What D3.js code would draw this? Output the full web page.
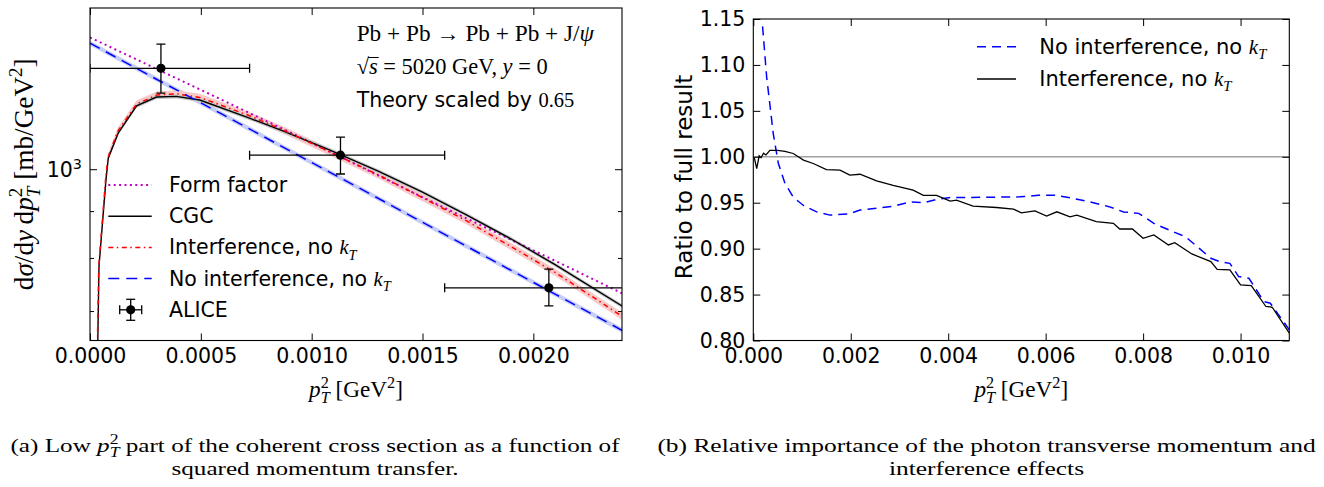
<!DOCTYPE html>
<html lang="en">
<head>
<meta charset="UTF-8">
<title>Coherent J/psi cross section and ratios</title>
<script src="https://d3js.org/d3.v7.min.js"></script>
<style>
    body { margin: 0; background: #fff; }
    svg { display: block; }
    .tick text { font-family: 'DejaVu Sans', sans-serif; font-size: 20.5px; fill: #000; }
    .tick line { stroke: #000; stroke-width: 1; }
</style>
</head>
<body>
<svg id="fig" width="1324" height="487"></svg>
<script>
// ---- data ----
// left panel, x in GeV^2, y in mb/GeV^2 (already scaled by 0.65)
const formFactor = [[0,1393],[0.0003,1287],[0.0006,1189],[0.0009,1098],[0.0012,1012],[0.0015,932],[0.0018,860],[0.0021,794],[0.0024,732]];
const cgc = [[0.000033,600],[0.0000405,783],[0.000072,973],[0.0000824,1028],[0.000127,1095],[0.00021,1173],[0.0003,1199],[0.00039,1201],[0.000495,1190],[0.00072,1137],[0.00087,1101],[0.00108,1050],[0.0013,995],[0.0015,944],[0.0017,891],[0.0019,839],[0.0021,786],[0.0024,709]];
const interfNoKt = [[0.000031,600],[0.0000395,783],[0.00007,973],[0.000081,1030],[0.000125,1100],[0.00021,1178],[0.0003,1205],[0.00039,1209],[0.000495,1198],[0.00072,1144],[0.00087,1104],[0.00108,1045],[0.0013,986],[0.0015,931],[0.0017,878],[0.0019,823],[0.0021,771],[0.0024,691]];
const noInterfNoKt = [[0,1373],[0.0003,1254],[0.0006,1147],[0.0009,1048],[0.0012,958],[0.0015,875],[0.0018,799],[0.0021,730],[0.0024,667]];
// relative half width of the shaded bands
const bandCgc = 0.005, bandInterf = 0.009, bandNoInterf = 0.006;

// ALICE points
const aliceX   = [0.00032, 0.00113, 0.00207];
const aliceY   = [1289, 1036, 742];
const aliceXlo = [0, 0.00072, 0.0016];
const aliceXhi = [0.00072, 0.0016, 0.0025];
const aliceYlo = [1211, 988, 709];
const aliceYhi = [1370, 1084, 778];

// right panel, ratio to full result
const ratioNoInterf = [[0.00019,1.142],[0.000274,1.087],[0.00041,1.025],[0.000513,0.993],[0.00065,0.971],[0.00082,0.956],[0.00103,0.947],[0.0013,0.940],[0.00157,0.9365],[0.00198,0.938],[0.00219,0.942],[0.00287,0.946],[0.00322,0.951],[0.00349,0.950],[0.00376,0.9535],[0.00404,0.9557],[0.00445,0.9557],[0.00486,0.956],[0.00547,0.9564],[0.00585,0.958],[0.00623,0.958],[0.00657,0.9546],[0.00691,0.951],[0.0073,0.9457],[0.0076,0.940],[0.00791,0.9384],[0.00822,0.9275],[0.00861,0.9185],[0.00887,0.913],[0.00939,0.8895],[0.00957,0.8859],[0.00978,0.884],[0.00996,0.8696],[0.01017,0.8678],[0.01048,0.8424],[0.01061,0.8406],[0.011,0.8116]];
const ratioInterf = [[0.00002,0.999],[0.00007,0.987],[0.00012,1.001],[0.00016,0.999],[0.00021,1.004],[0.00026,1.002],[0.00034,1.007],[0.0005,1.007],[0.00065,1.006],[0.00082,1.0036],[0.00103,0.9964],[0.00123,0.9927],[0.0015,0.986],[0.00178,0.9855],[0.00198,0.980],[0.00219,0.981],[0.00253,0.9739],[0.00287,0.969],[0.00328,0.9637],[0.00349,0.958],[0.00376,0.958],[0.00404,0.9517],[0.00417,0.9528],[0.00451,0.9463],[0.00499,0.9448],[0.00534,0.943],[0.0055,0.939],[0.00578,0.9412],[0.00602,0.9354],[0.00623,0.9401],[0.0065,0.9347],[0.00664,0.9365],[0.00704,0.9293],[0.00739,0.9275],[0.00752,0.9214],[0.00778,0.9214],[0.008,0.9112],[0.00822,0.9149],[0.00852,0.904],[0.00865,0.9065],[0.009,0.8942],[0.00939,0.8859],[0.00952,0.8775],[0.00978,0.8768],[0.01,0.8605],[0.01022,0.8598],[0.01052,0.837],[0.01065,0.8362],[0.011,0.808]];

// ticks
const leftXTicks = [0, 0.0005, 0.001, 0.0015, 0.002];
const leftYMajor = [1000];
const leftYMinor = [700, 800, 900];
const rightXTicks = [0, 0.002, 0.004, 0.006, 0.008, 0.010];
const rightYTicks = [0.80, 0.85, 0.90, 0.95, 1.00, 1.05, 1.10, 1.15];

const serif = "'Liberation Serif', 'DejaVu Serif', serif";
const sans = "'DejaVu Sans', sans-serif";

const svg = d3.select("#fig");

// text with italic / sup / sub pieces
function rich(sel, segs, size) {
    sel.selectAll("tspan").remove();
    let off = 0;
    segs.forEach(s => {
        const small = s.sup || s.sub;
        const pos = s.sup ? -0.4 * size : s.sub ? 0.26 * size : 0;
        const ts = sel.append("tspan")
            .attr("dy", pos - off)
            .style("font-size", (small ? 0.7 * size : size) + "px")
            .style("font-style", s.i ? "italic" : "normal")
            .text(s.t);
        if (s.m) ts.style("font-family", serif);
        if (s.back) ts.attr("dx", -s.back * size);
        off = pos;
    });
}
// scale font until the text is w px wide
function fitRich(sel, segs, size, w) {
    rich(sel, segs, size);
    const got = sel.node().getBBox().width;
    const s2 = size * w / got;
    rich(sel, segs, s2);
    return s2;
}
// two-line caption centred at cx; the first line is stretched sideways to width w
function caption(cx, y, segs1, segs2, size, w) {
    const mk = segs => {
        const t = svg.append("text").attr("x", 0).attr("y", 0).attr("text-anchor", "middle").style("font-family", serif);
        rich(t, segs, size);
        return t;
    };
    const t1 = mk(segs1), t2 = mk(segs2);
    const sx = w / t1.node().getBBox().width;
    t1.attr("transform", `translate(${cx},${y}) scale(${sx},1)`);
    t2.attr("transform", `translate(${cx},${y + 23}) scale(${sx},1)`);
}
const pT2 = [{t:"p", i:1}, {t:"2", sup:1}, {t:"T", sub:1, i:1, back:0.35}];
const kT = [{t:"k", i:1, m:1}, {t:"T", sub:1, i:1, m:1}];

// ================= left panel =================
const L = {x: 90, y: 8, w: 532, h: 332.5};
const gL = svg.append("g").attr("transform", `translate(${L.x},${L.y})`);
const xL = d3.scaleLinear().domain([0, 0.0024]).range([0, L.w]);
const yL = d3.scaleLog().domain([650, 1500]).range([L.h, 0]);

svg.append("clipPath").attr("id", "clipL").append("rect").attr("width", L.w).attr("height", L.h);
const plotL = gL.append("g").attr("clip-path", "url(#clipL)");

const lineL = d3.line().x(d => xL(d[0])).y(d => yL(d[1]));
const bandL = f => d3.area().x(d => xL(d[0])).y0(d => yL(d[1] * (1 - f))).y1(d => yL(d[1] * (1 + f)));

plotL.append("path").datum(noInterfNoKt).attr("d", bandL(bandNoInterf)).attr("fill", "#c6cdf7");
plotL.append("path").datum(interfNoKt).attr("d", bandL(bandInterf)).attr("fill", "#f8c9c9");
plotL.append("path").datum(cgc).attr("d", bandL(bandCgc)).attr("fill", "#c8c8c8");

const leftSeries = [
    {data: formFactor, color: "#bf00bf", width: 2, dash: "2,3.4", label: [{t:"Form factor"}]},
    {data: cgc, color: "#000", width: 1.4, dash: null, label: [{t:"CGC"}]},
    {data: interfNoKt, color: "#ff0000", width: 1.5, dash: "5,3.5,1.5,3.5", label: [{t:"Interference, no "}].concat(kT)},
    {data: noInterfNoKt, color: "#0000ff", width: 1.5, dash: "11,7", label: [{t:"No interference, no "}].concat(kT)}
];
leftSeries.forEach(s => {
    plotL.append("path").datum(s.data).attr("d", lineL)
        .attr("fill", "none").attr("stroke", s.color).attr("stroke-width", s.width)
        .attr("stroke-dasharray", s.dash);
});

// ALICE error bars
const alice = aliceX.map((x, i) => ({x, y: aliceY[i], xlo: aliceXlo[i], xhi: aliceXhi[i], ylo: aliceYlo[i], yhi: aliceYhi[i]}));
const eb = plotL.selectAll(".alice").data(alice).enter().append("g").attr("class", "alice");
eb.append("line").attr("x1", d => xL(d.xlo)).attr("x2", d => xL(d.xhi)).attr("y1", d => yL(d.y)).attr("y2", d => yL(d.y));
eb.append("line").attr("x1", d => xL(d.x)).attr("x2", d => xL(d.x)).attr("y1", d => yL(d.ylo)).attr("y2", d => yL(d.yhi));
[d => d.xlo, d => d.xhi].forEach(f => eb.append("line")
    .attr("x1", d => xL(f(d))).attr("x2", d => xL(f(d))).attr("y1", d => yL(d.y) - 4.5).attr("y2", d => yL(d.y) + 4.5));
[d => d.ylo, d => d.yhi].forEach(f => eb.append("line")
    .attr("x1", d => xL(d.x) - 4.5).attr("x2", d => xL(d.x) + 4.5).attr("y1", d => yL(f(d))).attr("y2", d => yL(f(d))));
eb.selectAll("line").attr("stroke", "#000").attr("stroke-width", 1.3);
eb.append("circle").attr("cx", d => xL(d.x)).attr("cy", d => yL(d.y)).attr("r", 4.6).attr("fill", "#000");

// axes with ticks pointing inwards
function inward(g, axis, tr) {
    const a = g.append("g").attr("transform", tr || null).call(axis);
    a.select(".domain").remove();
    return a;
}
inward(gL, d3.axisBottom(xL).tickValues(leftXTicks).tickSizeInner(-7).tickSizeOuter(0).tickPadding(8).tickFormat(d3.format(".4f")), `translate(0,${L.h})`);
inward(gL, d3.axisTop(xL).tickValues(leftXTicks).tickSizeInner(-7).tickSizeOuter(0).tickFormat(""));
const yMaj = inward(gL, d3.axisLeft(yL).tickValues(leftYMajor).tickSizeInner(-7).tickSizeOuter(0).tickPadding(8).tickFormat(""));
yMaj.selectAll(".tick text").each(function() {
    const t = d3.select(this).attr("dy", null).attr("y", 7);
    rich(t, [{t:"10"}, {t:"3", sup:1}], 20.5);
});
inward(gL, d3.axisLeft(yL).tickValues(leftYMinor).tickSizeInner(-4).tickSizeOuter(0).tickFormat(""));
inward(gL, d3.axisRight(yL).tickValues(leftYMajor).tickSizeInner(-7).tickSizeOuter(0).tickFormat(""), `translate(${L.w},0)`);
inward(gL, d3.axisRight(yL).tickValues(leftYMinor).tickSizeInner(-4).tickSizeOuter(0).tickFormat(""), `translate(${L.w},0)`);
gL.append("rect").attr("width", L.w).attr("height", L.h).attr("fill", "none").attr("stroke", "#000").attr("stroke-width", 1.1);

// legend (left)
const legL = gL.append("g");
leftSeries.forEach((s, i) => {
    const cy = 185 - L.y + i * 31.2;
    legL.append("line").attr("x1", 18.3).attr("x2", 61.7).attr("y1", cy).attr("y2", cy)
        .attr("stroke", s.color).attr("stroke-width", s.width).attr("stroke-dasharray", s.dash);
    const t = legL.append("text").attr("x", 79).attr("y", cy + 7).style("font-family", sans);
    rich(t, s.label, 20.5);
});
{
    const cy = 185 - L.y + 4 * 31.2, cx = 40.7;
    const eg = legL.append("g").attr("stroke", "#000").attr("stroke-width", 1.3);
    eg.append("line").attr("x1", cx - 11).attr("x2", cx + 11).attr("y1", cy).attr("y2", cy);
    eg.append("line").attr("x1", cx).attr("x2", cx).attr("y1", cy - 10.5).attr("y2", cy + 10.5);
    eg.append("line").attr("x1", cx - 11).attr("x2", cx - 11).attr("y1", cy - 4.5).attr("y2", cy + 4.5);
    eg.append("line").attr("x1", cx + 11).attr("x2", cx + 11).attr("y1", cy - 4.5).attr("y2", cy + 4.5);
    eg.append("line").attr("x1", cx - 4.5).attr("x2", cx + 4.5).attr("y1", cy - 10.5).attr("y2", cy - 10.5);
    eg.append("line").attr("x1", cx - 4.5).attr("x2", cx + 4.5).attr("y1", cy + 10.5).attr("y2", cy + 10.5);
    legL.append("circle").attr("cx", cx).attr("cy", cy).attr("r", 4.6).attr("fill", "#000");
    const t = legL.append("text").attr("x", 79).attr("y", cy + 7).style("font-family", sans);
    rich(t, [{t:"ALICE"}], 20.5);
}

// annotations
const ann1 = svg.append("text").attr("x", 356.7).attr("y", 40.5).style("font-family", serif);
fitRich(ann1, [{t:"Pb + Pb \u2192 Pb + Pb + J/"}, {t:"\u03c8", i:1}], 20, 238);
const ann2 = svg.append("text").attr("x", 356.7).attr("y", 74).style("font-family", serif);
fitRich(ann2, [{t:"\u221a"}, {t:"s", i:1}, {t:" = 5020 GeV, "}, {t:"y", i:1}, {t:" = 0"}], 20, 191);
{
    // bar of the square root over s
    const n = ann2.node();
    const x0 = n.getStartPositionOfChar(1).x - 1, x1 = n.getEndPositionOfChar(1).x + 1;
    svg.append("line").attr("x1", x0).attr("x2", x1).attr("y1", 57.5).attr("y2", 57.5)
        .attr("stroke", "#000").attr("stroke-width", 1);
}
const ann3 = svg.append("text").attr("x", 356.7).attr("y", 107).style("font-family", sans);
rich(ann3, [{t:"Theory scaled by "}, {t:"0.65", m:1}], 20.5);

// axis labels (left)
const xlabL = svg.append("text").attr("x", L.x + L.w / 2).attr("y", 397).attr("text-anchor", "middle").style("font-family", serif);
fitRich(xlabL, pT2.concat([{t:" [GeV"}, {t:"2", sup:1}, {t:"]"}]), 21, 96);
const ylabL = svg.append("text").attr("transform", `translate(33,${L.y + L.h / 2}) rotate(-90)`)
    .attr("text-anchor", "middle").style("font-family", serif);
fitRich(ylabL, [{t:"d"}, {t:"\u03c3", i:1}, {t:"/d"}, {t:"y", i:1}, {t:"\u2009d"}].concat(pT2).concat([{t:" [mb/GeV"}, {t:"2", sup:1}, {t:"]"}]), 21, 232);

// ================= right panel =================
const R = {x: 753.3, y: 19, w: 536, h: 321.5};
const gR = svg.append("g").attr("transform", `translate(${R.x},${R.y})`);
const xR = d3.scaleLinear().domain([0, 0.011]).range([0, R.w]);
const yR = d3.scaleLinear().domain([0.80, 1.15]).range([R.h, 0]);
svg.append("clipPath").attr("id", "clipR").append("rect").attr("width", R.w).attr("height", R.h);
const plotR = gR.append("g").attr("clip-path", "url(#clipR)");
const lineR = d3.line().x(d => xR(d[0])).y(d => yR(d[1]));

plotR.append("line").attr("x1", 0).attr("x2", R.w).attr("y1", yR(1)).attr("y2", yR(1))
    .attr("stroke", "#a0a0a0").attr("stroke-width", 1.6);
const rightSeries = [
    {data: ratioNoInterf, color: "#0000ff", width: 1.5, dash: "9,6", label: [{t:"No interference, no "}].concat(kT)},
    {data: ratioInterf, color: "#000", width: 1.3, dash: null, label: [{t:"Interference, no "}].concat(kT)}
];
rightSeries.forEach(s => {
    plotR.append("path").datum(s.data).attr("d", lineR)
        .attr("fill", "none").attr("stroke", s.color).attr("stroke-width", s.width)
        .attr("stroke-dasharray", s.dash);
});

inward(gR, d3.axisBottom(xR).tickValues(rightXTicks).tickSizeInner(-7).tickSizeOuter(0).tickPadding(8).tickFormat(d3.format(".3f")), `translate(0,${R.h})`);
inward(gR, d3.axisTop(xR).tickValues(rightXTicks).tickSizeInner(-7).tickSizeOuter(0).tickFormat(""));
inward(gR, d3.axisLeft(yR).tickValues(rightYTicks).tickSizeInner(-7).tickSizeOuter(0).tickPadding(8).tickFormat(d3.format(".2f")));
inward(gR, d3.axisRight(yR).tickValues(rightYTicks).tickSizeInner(-7).tickSizeOuter(0).tickFormat(""), `translate(${R.w},0)`);
gR.append("rect").attr("width", R.w).attr("height", R.h).attr("fill", "none").attr("stroke", "#000").attr("stroke-width", 1.1);

// legend (right)
rightSeries.forEach((s, i) => {
    const cy = 46.7 + i * 32.3;
    svg.append("line").attr("x1", 977).attr("x2", 1016).attr("y1", cy).attr("y2", cy)
        .attr("stroke", s.color).attr("stroke-width", s.width).attr("stroke-dasharray", s.dash);
    const t = svg.append("text").attr("x", 1039.3).attr("y", cy + 7).style("font-family", sans);
    rich(t, s.label, 21);
});

const xlabR = svg.append("text").attr("x", R.x + R.w / 2).attr("y", 397).attr("text-anchor", "middle").style("font-family", serif);
fitRich(xlabR, pT2.concat([{t:" [GeV"}, {t:"2", sup:1}, {t:"]"}]), 21, 96);
svg.append("text").attr("transform", `translate(692,177) rotate(-90)`)
    .attr("text-anchor", "middle").style("font-family", sans).style("font-size", "23px")
    .text("Ratio to full result");

// ================= captions =================
caption(315, 452,
    [{t:"(a) Low "}].concat(pT2).concat([{t:" part of the coherent cross section as a function of"}]),
    [{t:"squared momentum transfer."}], 19.5, 610);
caption(986.5, 452,
    [{t:"(b) Relative importance of the photon transverse momentum and"}],
    [{t:"interference effects"}], 19.5, 659);
</script>
</body>
</html>
